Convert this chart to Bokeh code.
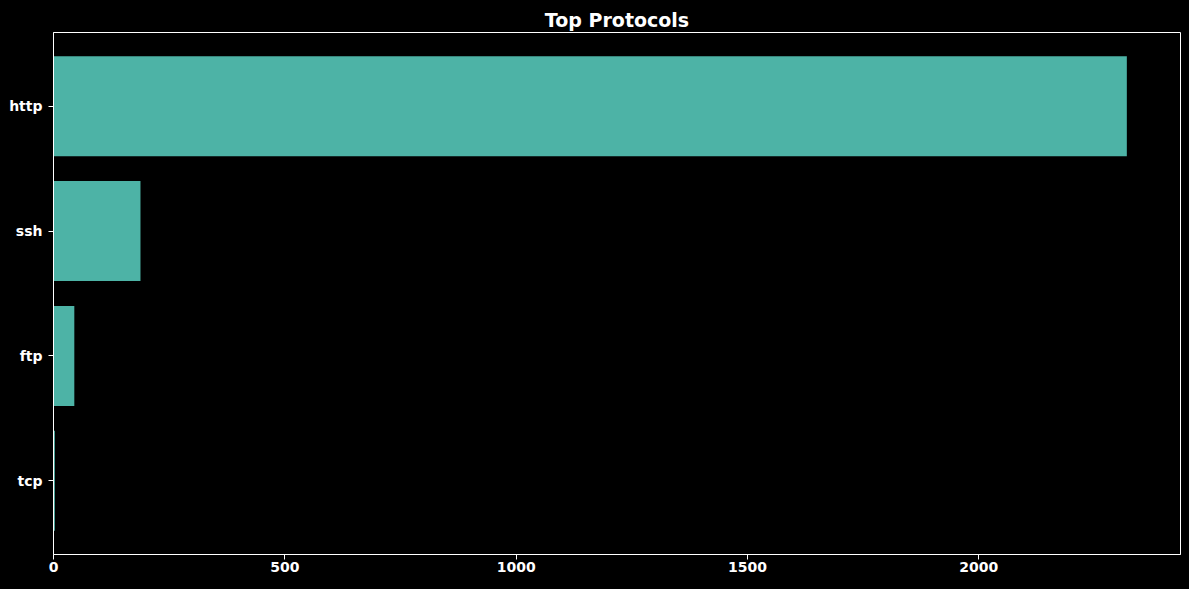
from bokeh.plotting import figure
from bokeh.models import Range1d, SingleIntervalTicker, NumeralTickFormatter
from bokeh.embed import file_html
from bokeh.resources import INLINE

protocols = ["tcp", "ftp", "ssh", "http"]
counts = [3, 45, 188, 2320]
x_max = 2436

p = figure(width=1189, height=589, y_range=protocols, x_range=Range1d(0, x_max),
           output_backend="svg", toolbar_location=None,
           title="Top Protocols",
           background_fill_color="black", border_fill_color="black",
           min_border_left=53, min_border_right=9, min_border_bottom=35, min_border_top=32)
p.y_range.range_padding = 0.045
p.hbar(y=protocols, right=counts, left=0, height=0.8, color="#4DB3A6", line_color=None)

p.title.text_color = "white"
p.title.text_font = "DejaVu Sans"
p.title.text_font_size = "19px"
p.title.text_font_style = "bold"
p.title.align = "center"
p.title.standoff = 4

p.outline_line_color = "white"
p.outline_line_width = 1
p.xgrid.visible = False
p.ygrid.visible = False

p.xaxis.ticker = SingleIntervalTicker(interval=500)
p.xaxis.formatter = NumeralTickFormatter(format="0")
for ax in (p.xaxis, p.yaxis):
    ax.axis_line_color = "white"
    ax.major_tick_line_color = "white"
    ax.minor_tick_line_color = None
    ax.major_tick_out = 5
    ax.major_tick_in = 0
    ax.major_label_text_color = "white"
    ax.major_label_text_font = "DejaVu Sans"
    ax.major_label_text_font_style = "bold"
    ax.major_label_text_font_size = "14px"
p.xaxis.major_label_standoff = 2
p.yaxis.major_label_standoff = 6

html = file_html(p, INLINE)
html = html.replace("</head>", "<style>html, body {background-color: black !important;}</style></head>", 1)
open("out.html", "w").write(html)
